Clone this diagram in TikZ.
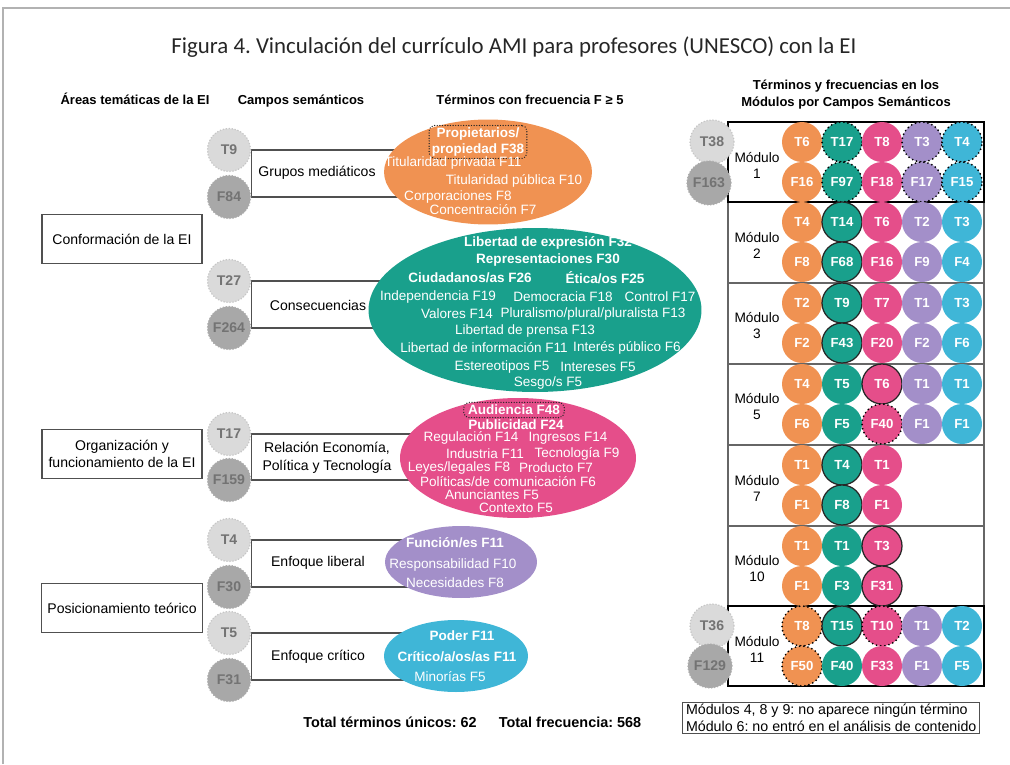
\documentclass[tikz,border=0pt]{standalone}
\usepackage{fontspec}
\setmainfont{Liberation Sans}
\newfontfamily\titlefont{Carlito}
\usetikzlibrary{shapes.geometric}
\usetikzlibrary{positioning}
\frenchspacing

\definecolor{grupos}{RGB}{240,146,82}
\definecolor{consec}{RGB}{25,160,140}
\definecolor{relac}{RGB}{229,78,138}
\definecolor{liberal}{RGB}{163,143,201}
\definecolor{critico}{RGB}{63,182,215}
\definecolor{linegray}{RGB}{80,80,80}
\definecolor{tgray}{RGB}{218,218,218}
\definecolor{fgray}{RGB}{168,168,168}
\colorlet{col1}{grupos}
\colorlet{col2}{consec}
\colorlet{col3}{relac}
\colorlet{col4}{liberal}
\colorlet{col5}{critico}

\pgfdeclarelayer{fondo}
\pgfsetlayers{fondo,main}

\tikzset{
  hdr/.style={align=center, font=\fontsize{7.4}{9.7}\selectfont\bfseries},
  area/.style={draw=linegray, line width=0.7pt, minimum width=3.2cm, minimum height=0.98cm, align=center, font=\fontsize{8}{10}\selectfont},
  campo/.style={align=center, font=\fontsize{8}{10}\selectfont},
  tbub/.style={circle, fill=tgray, draw=gray!45, densely dotted, line width=0.7pt, minimum size=0.86cm, inner sep=0pt, text=black!55, font=\fontsize{8}{9}\selectfont\bfseries},
  fbub/.style={tbub, fill=fgray, draw=gray!65},
  blob/.style={ellipse, inner sep=0pt},
  wt/.style={text=white, inner sep=0.5pt, font=\fontsize{7.7}{8.6}\selectfont},
  wb/.style={wt, font=\fontsize{7.7}{8.6}\selectfont\bfseries},
  dotbox/.style={draw=black!85, rounded corners=3pt, line width=0.8pt, dash pattern=on 0pt off 1.5pt, line cap=round, inner xsep=2.5pt, inner ysep=1.5pt},
  conn/.style={draw=linegray, line width=0.6pt},
  cell/.style={circle, minimum size=0.8cm, inner sep=0pt, text=white, font=\fontsize{7.5}{9}\selectfont\bfseries},
  cellplain/.style={},
  cellring/.style={draw=black!85, line width=0.7pt},
  celldot/.style={draw=black, line width=1.1pt, dash pattern=on 0pt off 2.4pt, line cap=round},
  modbox/.style={draw=gray!80!black, line width=0.6pt},
  modboxbold/.style={draw=black, line width=1.3pt},
  modlab/.style={align=center, font=\fontsize{7.8}{9.1}\selectfont},
}

\newcommand{\fila}[3]{%
  \foreach \tlab/\flab/\tsty/\fsty [count=\i] in {#3} {
    \node[cell, fill=col\i, \tsty] (m#1t\i) at ({762+40*\i},{#2+20}) {\tlab};
    \node[cell, fill=col\i, \fsty] (m#1f\i) at ({762+40*\i},{#2+60}) {\flab};
  }%
}

\begin{document}
\begin{tikzpicture}[x=0.02cm, y=-0.02cm]
\useasboundingbox (0,0) rectangle (1010,764);
\draw[gray!60, line width=0.8pt] (3,764) -- (3,8) -- (1010,8);

\node[font=\titlefont\fontsize{13}{15}\selectfont, text=black!85] (titulo) at (514,47)
  {Figura 4. Vinculación del currículo AMI para profesores (UNESCO) con la EI};

\node[hdr, anchor=base] (h1) at (135,104) {Áreas temáticas de la EI};
\node[hdr, anchor=base] (h2) at (301,104) {Campos semánticos};
\node[hdr, anchor=base] (h3) at (530,104) {Términos con frecuencia F ≥ 5};
\node[hdr] (h4) at (846,95) {Términos y frecuencias en los\\Módulos por Campos Semánticos};

% areas
\node[area] (conf) at (122,239) {Conformación de la EI};
\node[area] (orga) at (122,454) {Organización y\\funcionamiento de la EI};
\node[area] (posi) at (122,608) {Posicionamiento teórico};

% campos
\node[tbub] (gmT) at (229,150) {T9};
\node[fbub] (gmF) at (229,197) {F84};
\node[campo] (gmL) at (317,173) {Grupos mediáticos};
\node[tbub] (coT) at (229,281) {T27};
\node[fbub] (coF) at (229,328) {F264};
\node[campo] (coL) at (318,305) {Consecuencias};
\node[tbub] (reT) at (229,434) {T17};
\node[fbub] (reF) at (229,480) {F159};
\node[campo] (reL) at (327,458) {Relación Economía,\\Política y Tecnología};
\node[tbub] (liT) at (229,540) {T4};
\node[fbub] (liF) at (229,587) {F30};
\node[campo] (liL) at (318,563) {Enfoque liberal};
\node[tbub] (crT) at (229,633) {T5};
\node[fbub] (crF) at (229,680) {F31};
\node[campo] (crL) at (318,657) {Enfoque crítico};

% terminos
\node[blob, fill=grupos, minimum width=4.16cm, minimum height=2.1cm] (gmE) at (488,172) {};
\node[wb, dotbox, align=center, inner xsep=1.5pt] (gm1) at (478,142) {Propietarios/\\propiedad F38};
\node[wt] (gm2) at (453,163) {Titularidad privada F11};
\node[wt] (gm3) at (514,181) {Titularidad pública F10};
\node[wt] (gm4) at (458,197) {Corporaciones F8};
\node[wt] (gm5) at (483,210) {Concentración F7};

\node[blob, fill=consec, minimum width=6.66cm, minimum height=3.28cm] (coE) at (535,310) {};
\node[wb] (co1) at (548,243) {Libertad de expresión F32};
\node[wb] (co2) at (548,260) {Representaciones F30};
\node[wb] (co3) at (470,278) {Ciudadanos/as F26};
\node[wb] (co4) at (605,278) {Ética/os F25};
\node[wt] (co5) at (438,297) {Independencia F19};
\node[wt] (co6) at (563,297) {Democracia F18};
\node[wt] (co7) at (660,297) {Control F17};
\node[wt] (co8) at (457,314) {Valores F14};
\node[wt] (co9) at (593,314) {Pluralismo/plural/pluralista F13};
\node[wt] (co10) at (525,331) {Libertad de prensa F13};
\node[wt] (co11) at (484,348) {Libertad de información F11};
\node[wt] (co12) at (627,348) {Interés público F6};
\node[wt] (co13) at (502,367) {Estereotipos F5};
\node[wt] (co14) at (598,367) {Intereses F5};
\node[wt] (co15) at (548,383) {Sesgo/s F5};

\node[blob, fill=relac, minimum width=4.72cm, minimum height=2.4cm] (reE) at (518,458) {};
\node[wb, dotbox] (re1) at (514,410) {Audiencia F48};
\node[wb] (re2) at (516,425) {Publicidad F24};
\node[wt] (re3) at (471,438) {Regulación F14};
\node[wt] (re4) at (568,438) {Ingresos F14};
\node[wt] (re5) at (485,454) {Industria F11};
\node[wt] (re6) at (577,454) {Tecnología F9};
\node[wt] (re7) at (459,468) {Leyes/legales F8};
\node[wt] (re8) at (556,468) {Producto F7};
\node[wt] (re9) at (508,482) {Políticas/de comunicación F6};
\node[wt] (re10) at (492,495) {Anunciantes F5};
\node[wt] (re11) at (516,508) {Contexto F5};

\node[blob, fill=liberal, minimum width=3.04cm, minimum height=1.44cm] (liE) at (461,562) {};
\node[wb] (li1) at (455,543) {Función/es F11};
\node[wt] (li2) at (453,565) {Responsabilidad F10};
\node[wt] (li3) at (455,583) {Necesidades F8};

\node[blob, fill=critico, minimum width=2.88cm, minimum height=1.44cm] (crE) at (456,656) {};
\node[wb] (cr1) at (462,636) {Poder F11};
\node[wb] (cr2) at (457,657) {Crítico/a/os/as F11};
\node[wt] (cr3) at (450,677) {Minorías F5};

\begin{pgfonlayer}{fondo}
\foreach \g in {gm,co,re,li,cr}
  \draw[conn] (\g E.center |- \g T.east) -- (\g T.east) -- (\g F.east) -- (\g E.center |- \g F.east);
\end{pgfonlayer}

% modulos
\foreach \ya/\yb in {202/283, 283/364, 364/445, 445/526, 526/606}
  \draw[modbox] (728,\ya) rectangle (984,\yb);
\draw[modboxbold] (728,122) rectangle (984,202);
\draw[modboxbold] (728,606) rectangle (984,686);

\foreach \n/\yo in {1/122, 2/202, 3/283, 5/364, 7/445, 10/526, 11/606}
  \node[modlab] (mod\n) at (757,{\yo+43}) {Módulo\\\n};

\fila{1}{122}{T6/F16/cellplain/cellplain, T17/F97/celldot/celldot, T8/F18/cellplain/cellplain, T3/F17/celldot/celldot, T4/F15/celldot/celldot}
\fila{2}{202}{T4/F8/cellplain/cellplain, T14/F68/cellring/cellring, T6/F16/cellplain/cellplain, T2/F9/cellplain/cellplain, T3/F4/cellplain/cellplain}
\fila{3}{283}{T2/F2/cellplain/cellplain, T9/F43/cellring/cellring, T7/F20/cellplain/cellplain, T1/F2/cellplain/cellplain, T3/F6/cellplain/cellplain}
\fila{5}{364}{T4/F6/cellplain/cellplain, T5/F5/cellplain/cellplain, T6/F40/cellring/celldot, T1/F1/cellplain/cellplain, T1/F1/cellplain/cellplain}
\fila{7}{445}{T1/F1/cellplain/cellplain, T4/F8/cellring/cellring, T1/F1/cellplain/cellplain}
\fila{10}{526}{T1/F1/cellplain/cellplain, T1/F3/cellplain/cellplain, T3/F31/cellring/cellring}
\fila{11}{606}{T8/F50/celldot/celldot, T15/F40/cellring/cellplain, T10/F33/celldot/cellplain, T1/F1/cellplain/cellplain, T2/F5/cellplain/cellplain}

\node[tbub, minimum size=0.88cm] (m1T) at (712,142) {T38};
\node[fbub, minimum size=0.88cm] (m1F) at (709,183) {F163};
\node[tbub, minimum size=0.88cm] (m11T) at (712,626) {T36};
\node[fbub, minimum size=0.88cm] (m11F) at (710,666) {F129};

\node[draw=linegray, line width=0.6pt, align=left, anchor=west, inner xsep=2pt, inner ysep=1.2pt,
  font=\fontsize{8.1}{9.6}\selectfont] (nota) at (682,718)
  {Módulos 4, 8 y 9: no aparece ningún término\\Módulo 6: no entró en el análisis de contenido};

\node[font=\fontsize{8.2}{10}\selectfont\bfseries] (totT) at (390,722) {Total términos únicos: 62};
\node[font=\fontsize{8.2}{10}\selectfont\bfseries] (totF) at (570,722) {Total frecuencia: 568};
\end{tikzpicture}
\end{document}
